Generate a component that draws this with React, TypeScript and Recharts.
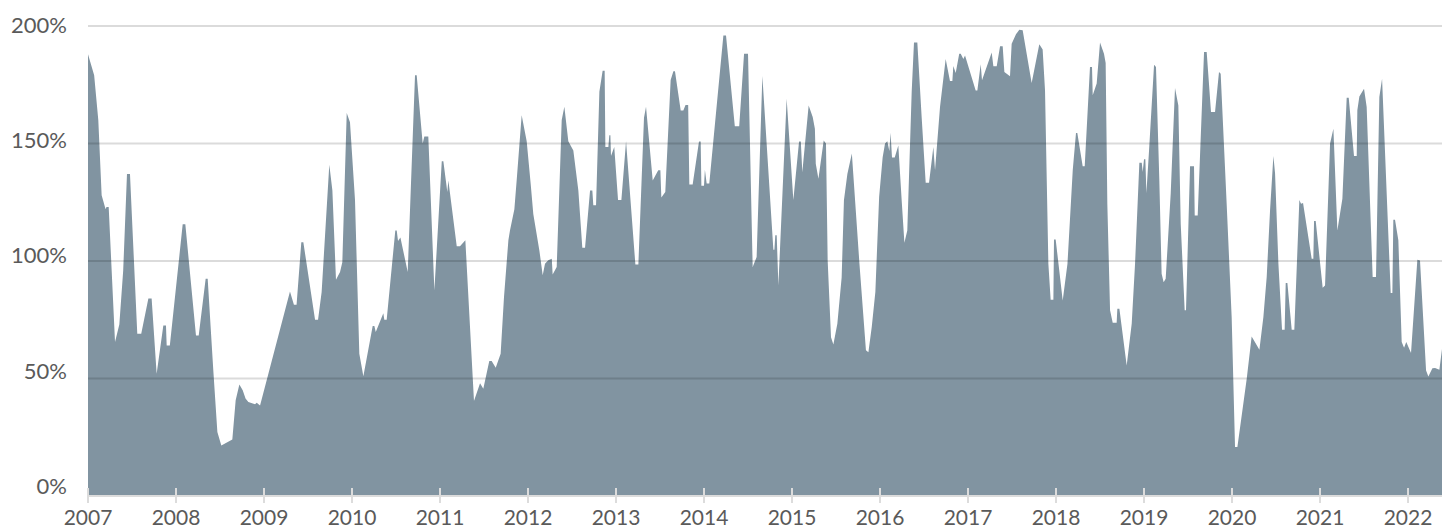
import { AreaChart, Area, XAxis, YAxis, ReferenceLine } from "recharts";

// [year, percent] vertices, one array per year
const s2007: [number, number][] = [
  [2007.0, 188], [2007.07, 179], [2007.117, 160], [2007.155, 128], [2007.2, 122], [2007.21, 123],
  [2007.235, 123], [2007.307, 65.5], [2007.356, 73], [2007.4, 96], [2007.443, 137], [2007.477, 137],
  [2007.56, 69], [2007.605, 69], [2007.686, 84], [2007.723, 84], [2007.78, 52], [2007.856, 72.6],
  [2007.886, 72.6], [2007.894, 64], [2007.93, 64],
];
const s2008: [number, number][] = [
  [2008.076, 115.6], [2008.106, 115.6], [2008.227, 68.3], [2008.258, 68.3], [2008.337, 92.4],
  [2008.36, 92.4], [2008.424, 53.4], [2008.47, 27.2], [2008.515, 21.5], [2008.64, 24], [2008.678, 40.7],
  [2008.72, 47.5], [2008.758, 45], [2008.79, 41.5], [2008.822, 40], [2008.898, 39], [2008.917, 39.7],
  [2008.955, 38.5],
];
const s2009: [number, number][] = [
  [2009.295, 87], [2009.34, 81.4], [2009.37, 81.4], [2009.424, 108], [2009.447, 108], [2009.58, 75],
  [2009.614, 75], [2009.655, 86.8], [2009.742, 141], [2009.777, 130], [2009.818, 92], [2009.864, 95.3],
  [2009.89, 99.5], [2009.94, 163], [2009.977, 159],
];
const s2010: [number, number][] = [
  [2010.034, 126], [2010.083, 60.5], [2010.129, 51], [2010.235, 72.3], [2010.254, 72.3], [2010.27, 69.8],
  [2010.356, 77.8], [2010.367, 75], [2010.394, 75], [2010.492, 113], [2010.508, 113], [2010.523, 108.5],
  [2010.55, 110], [2010.633, 95.3], [2010.716, 179], [2010.735, 179], [2010.803, 150], [2010.822, 153],
  [2010.867, 153], [2010.936, 87.5],
];
const s2011: [number, number][] = [
  [2011.02, 142.4], [2011.038, 142.4], [2011.083, 129.4], [2011.095, 134.3], [2011.19, 106.3],
  [2011.227, 106.3], [2011.288, 108.8], [2011.386, 40.4], [2011.455, 48], [2011.492, 45.6],
  [2011.56, 57.4], [2011.587, 57.4], [2011.633, 54.6], [2011.689, 60.5], [2011.727, 84.6],
  [2011.777, 108.8], [2011.795, 113], [2011.845, 122], [2011.871, 134.3], [2011.928, 162], [2011.985, 151],
];
const s2012: [number, number][] = [
  [2012.023, 135.7], [2012.03, 133], [2012.06, 120], [2012.129, 104.5], [2012.167, 93.9], [2012.193, 98.8],
  [2012.23, 100.3], [2012.27, 101], [2012.28, 94.3], [2012.326, 97.4], [2012.383, 160], [2012.413, 165.6],
  [2012.458, 151], [2012.515, 147], [2012.572, 130], [2012.617, 105.6], [2012.648, 105.6], [2012.705, 130],
  [2012.731, 130], [2012.742, 123.7], [2012.773, 123.7], [2012.811, 172], [2012.848, 181], [2012.871, 181],
  [2012.879, 148.5], [2012.913, 148.5], [2012.924, 153.5], [2012.936, 153.5], [2012.943, 144.7],
  [2012.98, 148.5],
];
const s2013: [number, number][] = [
  [2013.023, 126], [2013.061, 126], [2013.114, 151], [2013.22, 98.5], [2013.254, 98.5], [2013.318, 161],
  [2013.341, 165.6], [2013.417, 134.3], [2013.48, 138.6], [2013.504, 138.6], [2013.515, 127],
  [2013.56, 129.4], [2013.621, 177], [2013.652, 180.7], [2013.67, 180.7], [2013.735, 164], [2013.765, 164],
  [2013.79, 166.4], [2013.82, 166.4], [2013.833, 132.6], [2013.871, 132.6], [2013.943, 150.9],
  [2013.962, 150.9], [2013.97, 132],
];
const s2014: [number, number][] = [
  [2014.0, 132], [2014.01, 138.8], [2014.03, 133], [2014.06, 133], [2014.22, 196], [2014.25, 196],
  [2014.35, 157.3], [2014.4, 157.3], [2014.455, 188.2], [2014.5, 188.2], [2014.553, 97.4],
  [2014.598, 101.7], [2014.663, 178.7], [2014.788, 104.8], [2014.8, 104.8], [2014.81, 111],
  [2014.826, 111], [2014.845, 89.6], [2014.939, 169],
];
const s2015: [number, number][] = [
  [2015.015, 126], [2015.08, 150.9], [2015.1, 150.9], [2015.117, 137.8], [2015.189, 166.2],
  [2015.235, 161.3], [2015.26, 156.3], [2015.27, 141.4], [2015.3, 135], [2015.36, 151.3], [2015.386, 150],
  [2015.405, 100.3], [2015.443, 67.6], [2015.47, 64.5], [2015.515, 73.3], [2015.564, 93],
  [2015.59, 125.8], [2015.629, 137], [2015.68, 145.7], [2015.765, 99.5], [2015.84, 62], [2015.868, 61.2],
  [2015.906, 71.9], [2015.947, 86.8], [2015.99, 127.2],
];
const s2016: [number, number][] = [
  [2016.03, 144.2], [2016.057, 150], [2016.083, 151], [2016.106, 146.8], [2016.12, 154.6], [2016.136, 144],
  [2016.167, 144], [2016.208, 149.2], [2016.246, 125.8], [2016.277, 107.8], [2016.31, 113], [2016.36, 172],
  [2016.386, 193], [2016.424, 193], [2016.473, 161.3], [2016.519, 133.3], [2016.557, 133.3],
  [2016.606, 148.5], [2016.625, 138.6], [2016.682, 165.6], [2016.746, 186], [2016.795, 176.6],
  [2016.822, 176.6], [2016.833, 183], [2016.86, 180], [2016.9, 188.2], [2016.917, 188.2], [2016.947, 186],
  [2016.966, 187.5],
];
const s2017: [number, number][] = [
  [2017.087, 172.6], [2017.106, 172.6], [2017.144, 183.7], [2017.159, 176.9], [2017.269, 188.7],
  [2017.288, 182.9], [2017.326, 182.9], [2017.364, 191.4], [2017.394, 191.4], [2017.413, 180.4],
  [2017.477, 178.6], [2017.496, 192.5], [2017.545, 196.5], [2017.583, 198.4], [2017.621, 198.2],
  [2017.723, 175.7], [2017.81, 192.2], [2017.848, 190], [2017.875, 172.6], [2017.913, 98.8],
  [2017.939, 83.5], [2017.97, 83.5], [2017.977, 109.2], [2017.996, 109.2],
];
const s2018: [number, number][] = [
  [2018.076, 83.2], [2018.13, 98.8], [2018.16, 118.7], [2018.19, 138.6], [2018.227, 154.5],
  [2018.242, 154.5], [2018.303, 140.3], [2018.326, 140.3], [2018.386, 182.6], [2018.409, 182.6],
  [2018.417, 170.5], [2018.462, 175.5], [2018.5, 193], [2018.545, 188.2], [2018.564, 184.3],
  [2018.583, 124.4], [2018.614, 79], [2018.644, 73.7], [2018.689, 73.7], [2018.697, 79.7], [2018.72, 79.7],
  [2018.803, 55.5], [2018.86, 73.3], [2018.898, 98.8], [2018.947, 141.8], [2018.974, 141.8],
  [2018.985, 137.9],
];
const s2019: [number, number][] = [
  [2019.0, 143.3], [2019.015, 143.3], [2019.027, 128.9], [2019.057, 147], [2019.114, 183.5],
  [2019.136, 182.6], [2019.174, 134.3], [2019.2, 94.6], [2019.223, 91], [2019.246, 92.4],
  [2019.303, 128.6], [2019.352, 173.6], [2019.39, 166.2], [2019.417, 115.9], [2019.462, 79], [2019.477, 79],
  [2019.523, 140.3], [2019.568, 140.3], [2019.576, 119.4], [2019.61, 119.4], [2019.682, 188.9],
  [2019.712, 188.9], [2019.761, 163.4], [2019.807, 163.4], [2019.852, 180.4], [2019.871, 179.7],
  [2019.939, 124.4], [2019.996, 76.1],
];
const s2020: [number, number][] = [
  [2020.034, 20.8], [2020.061, 20.8], [2020.167, 49.9], [2020.223, 67.9], [2020.311, 62.2],
  [2020.356, 76.1], [2020.394, 93.2], [2020.432, 121.5], [2020.47, 144.7], [2020.489, 137.2],
  [2020.527, 98.8], [2020.568, 70.7], [2020.598, 70.7], [2020.61, 90.6], [2020.629, 90.6], [2020.678, 70.7],
  [2020.708, 70.7], [2020.765, 126], [2020.784, 124.4], [2020.807, 124.7], [2020.905, 101], [2020.924, 101],
  [2020.932, 117], [2020.951, 117],
];
const s2021: [number, number][] = [
  [2021.03, 88.6], [2021.057, 89.6], [2021.114, 150], [2021.152, 156.3], [2021.197, 113], [2021.254, 126.5],
  [2021.303, 169.5], [2021.326, 169.5], [2021.386, 144.7], [2021.417, 144.7], [2021.424, 164.1],
  [2021.447, 170], [2021.5, 173.3], [2021.53, 165.5], [2021.598, 93.2], [2021.636, 93.2], [2021.674, 169.8],
  [2021.705, 177.6], [2021.803, 86.4], [2021.822, 86.4], [2021.833, 117.6], [2021.852, 117.6],
  [2021.89, 108.8], [2021.928, 65.5], [2021.955, 63.1], [2021.98, 65.5],
];
const s2022: [number, number][] = [
  [2022.034, 60.8], [2022.106, 100.5], [2022.136, 100.2], [2022.205, 53.4], [2022.231, 50.9],
  [2022.277, 54.4], [2022.307, 54.5], [2022.356, 53.7], [2022.386, 62.6],
];

const yearTicks = [2007, 2008, 2009, 2010, 2011, 2012, 2013, 2014, 2015, 2016, 2017, 2018, 2019, 2020, 2021, 2022];
const pctTicks = [0, 50, 100, 150, 200];
const gridLevels = [50, 100, 150, 200];

const data = [
  ...s2007, ...s2008, ...s2009, ...s2010, ...s2011, ...s2012, ...s2013, ...s2014,
  ...s2015, ...s2016, ...s2017, ...s2018, ...s2019, ...s2020, ...s2021, ...s2022,
].map(([t, v]) => ({ t, v }));

const FONT = "Lato, 'Open Sans', sans-serif";
const TEXT = "#5a5a5a";

function YearTick(props: any) {
  const { x, y, payload } = props;
  return (
    <g>
      <line x1={x} x2={x} y1={y - 8} y2={y + 7} stroke="#dcdcdc" strokeWidth={2} />
      <text x={x} y={y + 29} textAnchor="middle" fill={TEXT} fontSize={21} fontFamily={FONT}>
        {payload.value}
      </text>
    </g>
  );
}

function PctTick(props: any) {
  const { x, y, payload } = props;
  // labels sit a little higher toward the bottom of the axis
  const dy = -2 + payload.value * 0.0435;
  return (
    <text x={x} y={y + dy} textAnchor="end" fill={TEXT} fontSize={22} fontFamily={FONT}>
      {payload.value}%
    </text>
  );
}

export default function App() {
  return (
    <div style={{ position: "absolute", left: 0, top: 0, background: "#fff" }}>
      <AreaChart width={1447} height={529} data={data} margin={{ top: 26, right: 5, bottom: 0, left: 0 }}>
        <XAxis
          dataKey="t"
          type="number"
          domain={[2007, 2022.386]}
          ticks={yearTicks}
          height={33}
          tickSize={0}
          tickMargin={0}
          tickLine={false}
          axisLine={{ stroke: "#dcdcdc", strokeWidth: 2 }}
          tick={<YearTick />}
          interval={0}
        />
        <YAxis
          type="number"
          domain={[0, 200]}
          ticks={pctTicks}
          width={88}
          tickSize={0}
          tickMargin={21}
          axisLine={false}
          tickLine={false}
          tick={<PctTick />}
          interval={0}
        />
        <Area
          type="linear"
          dataKey="v"
          stroke="none"
          fill="#8194a1"
          fillOpacity={1}
          isAnimationActive={false}
        />
        {gridLevels.map((g) => (
          <ReferenceLine key={g} y={g} stroke="rgba(0,0,0,0.14)" strokeWidth={2} />
        ))}
      </AreaChart>
    </div>
  );
}
